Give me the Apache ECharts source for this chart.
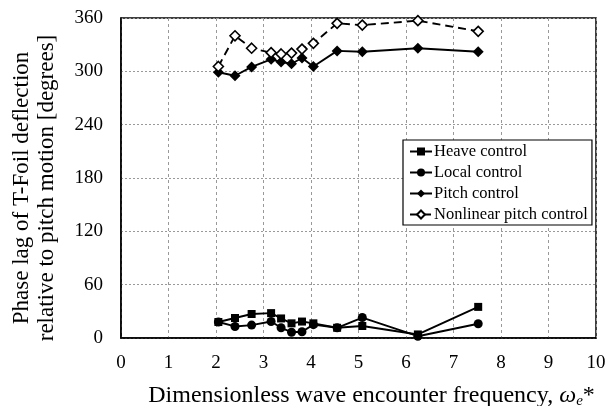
<!DOCTYPE html>
<html>
<head>
<meta charset="utf-8">
<script src="https://cdn.jsdelivr.net/npm/echarts@6/dist/echarts.min.js"></script>
<style>
  html, body { margin: 0; padding: 0; background: #fff; }
  #chart { width: 606px; height: 406px; }
</style>
</head>
<body>
<div id="chart"></div>
<script>
var freq = [2.05, 2.4, 2.75, 3.16, 3.37, 3.59, 3.81, 4.05, 4.55, 5.08, 6.25, 7.52];
var heave = [18, 22.5, 27, 28, 22, 16.5, 18.5, 16.5, 11.5, 13.5, 4, 35];
var local = [18, 13, 14.5, 18.5, 11.5, 6.5, 7, 15, 11.5, 23, 2, 16];
var pitch = [299, 295, 305, 313.5, 310.5, 308.5, 315, 305.5, 323, 322, 326, 322];
var nonlinear = [305.5, 340, 326, 321, 319.5, 320.5, 325, 331.5, 354, 352, 357, 345];
var xTicks = [0, 10, 1];
var yTicks = [0, 360, 60];

function pairs(xs, ys) {
    var arr = [];
    for (var i = 0; i < xs.length; i++) {
        arr.push([xs[i], ys[i]]);
    }
    return arr;
}

var font = 'Liberation Serif';
var chart = echarts.init(document.getElementById('chart'));

function makeSeries(name, data, symbol, size, fill, dashed) {
    return {
        name: name,
        type: 'line',
        data: pairs(freq, data),
        symbol: symbol,
        symbolSize: size,
        showAllSymbol: true,
        lineStyle: { color: '#000', width: 1.9, type: dashed ? [8, 5] : 'solid' },
        itemStyle: { color: fill, borderColor: '#000', borderWidth: fill === '#fff' ? 1.6 : 0 },
        emphasis: { disabled: true },
        animation: false
    };
}

var option = {
    backgroundColor: '#fff',
    textStyle: { fontFamily: font },
    grid: {
        left: 121, right: 10, top: 18, bottom: 68,
        outerBoundsMode: 'none',
        containLabel: false,
        show: true, borderColor: '#000', borderWidth: 1.5
    },
    legend: {
        orient: 'vertical',
        left: 403, top: 140,
        itemWidth: 22, itemHeight: 10, itemGap: 4,
        padding: [3, 4, 2, 6],
        backgroundColor: '#fff',
        borderColor: '#000', borderWidth: 1.2, borderRadius: 0,
        textStyle: { fontFamily: font, fontSize: 16.5, lineHeight: 17, color: '#000', padding: [0, 0, 0, -3] },
        data: ['Heave control', 'Local control', 'Pitch control', 'Nonlinear pitch control']
    },
    xAxis: {
        type: 'value',
        min: xTicks[0], max: xTicks[1], interval: xTicks[2],
        axisLine: { lineStyle: { color: '#000', width: 1.5 } },
        axisTick: { show: false },
        axisLabel: { color: '#000', fontSize: 19, fontFamily: font, margin: 16 },
        splitLine: { lineStyle: { color: '#999', type: [3, 3], width: 1 } },
        name: 'Dimensionless wave encounter frequency, {i|ω}{s|e}{n|*}',
        nameLocation: 'middle',
        nameGap: 44,
        nameTextStyle: {
            color: '#000', fontSize: 24, fontFamily: font, padding: [0, 0, 0, 26],
            rich: {
                i: { fontStyle: 'italic', fontSize: 24, fontFamily: font, color: '#000' },
                s: { fontStyle: 'italic', fontSize: 15, fontFamily: font, color: '#000', padding: [12, 0, 0, 0] },
                n: { fontSize: 24, fontFamily: font, color: '#000' }
            }
        }
    },
    yAxis: {
        type: 'value',
        min: yTicks[0], max: yTicks[1], interval: yTicks[2],
        axisLine: { lineStyle: { color: '#000', width: 1.5 } },
        axisTick: { show: false },
        axisLabel: { color: '#000', fontSize: 19, fontFamily: font, margin: 18, padding: [5, 0, 0, 0] },
        splitLine: { lineStyle: { color: '#999', type: [2, 2], width: 1 } },
        name: 'Phase lag of T-Foil deflection\nrelative to pitch motion [degrees]',
        nameLocation: 'middle',
        nameGap: 62,
        nameTextStyle: { color: '#000', fontSize: 23, fontFamily: font, lineHeight: 25, padding: [0, 20, 0, 0] }
    },
    series: [
        makeSeries('Heave control', heave, 'rect', 8, '#000', false),
        makeSeries('Local control', local, 'circle', 9, '#000', false),
        makeSeries('Pitch control', pitch, 'diamond', 11, '#000', false),
        makeSeries('Nonlinear pitch control', nonlinear, 'diamond', 10, '#fff', true)
    ]
};
chart.setOption(option);
</script>
</body>
</html>
